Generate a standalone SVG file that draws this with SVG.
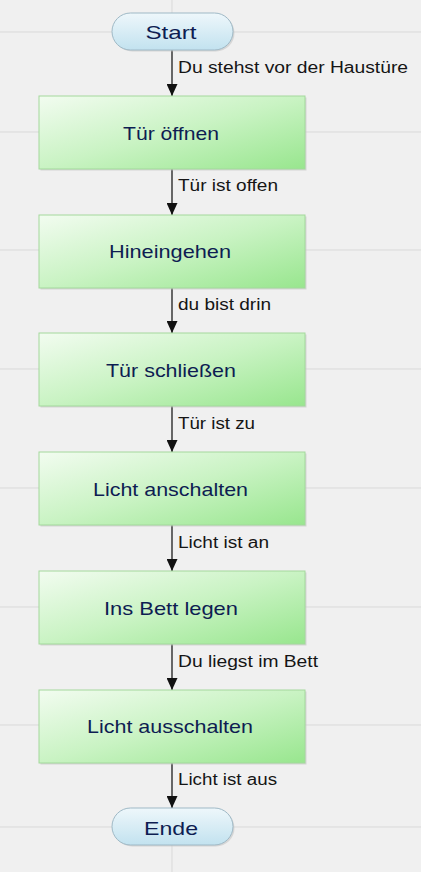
<svg xmlns="http://www.w3.org/2000/svg" width="421" height="872" viewBox="0 0 421 872">
<defs>
<linearGradient id="gGreen" x1="0" y1="0" x2="1" y2="1">
<stop offset="0" stop-color="#f2fcf0"/>
<stop offset="0.5" stop-color="#c9f3c3"/>
<stop offset="1" stop-color="#98e68e"/>
</linearGradient>
<linearGradient id="gBlue" x1="0" y1="0" x2="0" y2="1">
<stop offset="0" stop-color="#eef7fb"/>
<stop offset="1" stop-color="#c2e2ef"/>
</linearGradient>
<marker id="arr" viewBox="0 0 12 11" refX="12" refY="5.5" markerWidth="12" markerHeight="11" markerUnits="userSpaceOnUse" orient="auto">
<path d="M0,0 L12,5.5 L0,11 Z" fill="#111"/>
</marker>
</defs>
<style>
.grid{stroke:#d9d9d9;stroke-width:1}
.box{fill:url(#gGreen);stroke:#a3d89c;stroke-width:1}
.term{fill:url(#gBlue);stroke:#9fb9c6;stroke-width:1}
.shadow{fill:#c4c4c4;opacity:0.6}
.nt{font-family:"Liberation Sans",Arial,sans-serif;font-size:19px;fill:#0e1d52;text-anchor:middle}
.lb{font-family:"Liberation Sans",Arial,sans-serif;font-size:16px;fill:#151515}
.conn{stroke:#222;stroke-width:1.3;fill:none}
</style>
<rect x="0" y="0" width="421" height="872" fill="#f0f0f0"/>
<g id="grid">
<line class="grid" x1="0" y1="32" x2="421" y2="32"/>
<line class="grid" x1="0" y1="132" x2="421" y2="132"/>
<line class="grid" x1="0" y1="250" x2="421" y2="250"/>
<line class="grid" x1="0" y1="369" x2="421" y2="369"/>
<line class="grid" x1="0" y1="488" x2="421" y2="488"/>
<line class="grid" x1="0" y1="607" x2="421" y2="607"/>
<line class="grid" x1="0" y1="725" x2="421" y2="725"/>
<line class="grid" x1="0" y1="827" x2="421" y2="827"/>
<line class="grid" x1="172" y1="0" x2="172" y2="872"/>
</g>
<g id="connectors">
<line class="conn" x1="172" y1="50" x2="172" y2="96" marker-end="url(#arr)"/>
<line class="conn" x1="172" y1="169" x2="172" y2="215" marker-end="url(#arr)"/>
<line class="conn" x1="172" y1="288" x2="172" y2="333" marker-end="url(#arr)"/>
<line class="conn" x1="172" y1="406" x2="172" y2="452" marker-end="url(#arr)"/>
<line class="conn" x1="172" y1="525" x2="172" y2="571" marker-end="url(#arr)"/>
<line class="conn" x1="172" y1="644" x2="172" y2="690" marker-end="url(#arr)"/>
<line class="conn" x1="172" y1="763" x2="172" y2="808" marker-end="url(#arr)"/>
<text class="lb" x="178" y="73" textLength="230" lengthAdjust="spacingAndGlyphs">Du stehst vor der Haustüre</text>
<text class="lb" x="178" y="191" textLength="100" lengthAdjust="spacingAndGlyphs">Tür ist offen</text>
<text class="lb" x="178" y="310" textLength="93" lengthAdjust="spacingAndGlyphs">du bist drin</text>
<text class="lb" x="178" y="429" textLength="77" lengthAdjust="spacingAndGlyphs">Tür ist zu</text>
<text class="lb" x="178" y="548" textLength="91" lengthAdjust="spacingAndGlyphs">Licht ist an</text>
<text class="lb" x="178" y="667" textLength="140" lengthAdjust="spacingAndGlyphs">Du liegst im Bett</text>
<text class="lb" x="178" y="785" textLength="99" lengthAdjust="spacingAndGlyphs">Licht ist aus</text>
</g>
<g id="start">
<rect class="shadow" x="113.5" y="14.5" width="121" height="37" rx="18.5"/>
<rect class="term" x="112" y="13" width="121" height="37" rx="18.5"/>
<text class="nt" x="171" y="39" textLength="51" lengthAdjust="spacingAndGlyphs">Start</text>
</g>
<g id="tuer-oeffnen">
<rect class="shadow" x="40.5" y="97.5" width="266" height="73"/>
<rect class="box" x="39" y="96" width="266" height="73"/>
<text class="nt" x="171" y="140" textLength="96" lengthAdjust="spacingAndGlyphs">Tür öffnen</text>
</g>
<g id="hineingehen">
<rect class="shadow" x="40.5" y="216.5" width="266" height="73"/>
<rect class="box" x="39" y="215" width="266" height="73"/>
<text class="nt" x="170" y="258" textLength="122" lengthAdjust="spacingAndGlyphs">Hineingehen</text>
</g>
<g id="tuer-schliessen">
<rect class="shadow" x="40.5" y="334.5" width="266" height="73"/>
<rect class="box" x="39" y="333" width="266" height="73"/>
<text class="nt" x="171" y="377" textLength="130" lengthAdjust="spacingAndGlyphs">Tür schließen</text>
</g>
<g id="licht-anschalten">
<rect class="shadow" x="40.5" y="453.5" width="266" height="73"/>
<rect class="box" x="39" y="452" width="266" height="73"/>
<text class="nt" x="170.5" y="496" textLength="155" lengthAdjust="spacingAndGlyphs">Licht anschalten</text>
</g>
<g id="ins-bett">
<rect class="shadow" x="40.5" y="572.5" width="266" height="73"/>
<rect class="box" x="39" y="571" width="266" height="73"/>
<text class="nt" x="171" y="615" textLength="134" lengthAdjust="spacingAndGlyphs">Ins Bett legen</text>
</g>
<g id="licht-ausschalten">
<rect class="shadow" x="40.5" y="691.5" width="266" height="73"/>
<rect class="box" x="39" y="690" width="266" height="73"/>
<text class="nt" x="170" y="733" textLength="166" lengthAdjust="spacingAndGlyphs">Licht ausschalten</text>
</g>
<g id="ende">
<rect class="shadow" x="113.5" y="809.5" width="121" height="37" rx="18.5"/>
<rect class="term" x="112" y="808" width="121" height="37" rx="18.5"/>
<text class="nt" x="171" y="835" textLength="54" lengthAdjust="spacingAndGlyphs">Ende</text>
</g>
</svg>
